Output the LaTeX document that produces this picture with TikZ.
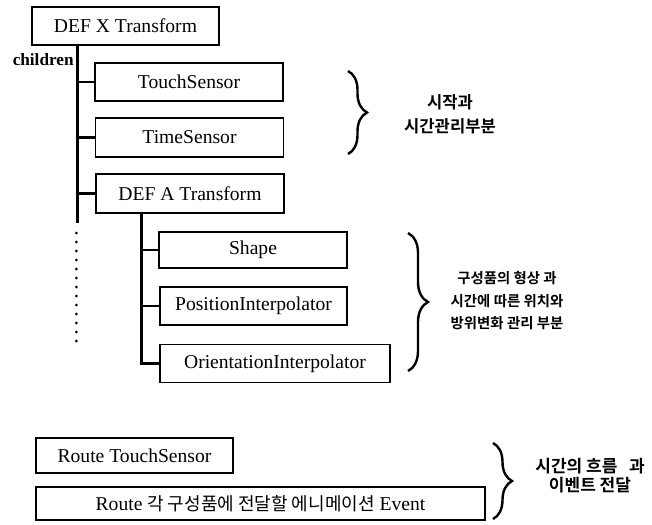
\documentclass[tikz,border=0pt]{standalone}
\usepackage{fontspec}
\setmainfont{Liberation Serif}
\newfontfamily\kofont{Noto Sans CJK KR}[BoldFont={Noto Sans CJK KR Bold}]
\usepackage{tikz}
\usetikzlibrary{calc}
\usetikzlibrary{decorations.pathreplacing}

\begin{document}
\begin{tikzpicture}[x=0.5pt, y=-0.5pt,
		every node/.style={font=\fontsize{9.8}{11}\selectfont},
		box/.style={draw, line width=0.65pt, inner sep=0pt, minimum width=94pt, minimum height=19pt},
		tree/.style={line width=1.3pt},
		curly/.style={decorate, decoration={brace, amplitude=#1}, line width=1.2pt},
		note/.style 2 args={align=center, font=\kofont\bfseries\fontsize{#1}{#2}\selectfont}]
				\useasboundingbox (0,0) rectangle (652,524);
				
				\node[box, minimum width=93.5pt] (xroot) at (125.5,26) {DEF X Transform};
				\node[font=\bfseries\fontsize{8.6}{10}\selectfont, anchor=east, inner sep=0pt] (childlbl) at (74,60) {children};
				
				\node[box] (touch) at (189,82) {TouchSensor};
				\node[box, minimum height=19.5pt] (timesens) at (189.5,137.5) {TimeSensor};
				\node[box, minimum height=19.5pt] (aroot) at (190,193.5) {DEF A Transform};
				
				\node[box, minimum height=18pt] (shape) at (253,250) {Shape};
				\node[box, minimum width=93.5pt] (posint) at (253.5,306) {PositionInterpolator};
				\node[box, minimum width=115pt] (oriint) at (275,363.5) {OrientationInterpolator};
				
				\node[box, minimum width=98.5pt, minimum height=17.5pt] (routets) at (134.5,455.5) {Route TouchSensor};
				\node[box, minimum width=224.5pt, minimum height=16.5pt] (routeev) at (260.5,503.5)
				{Route {\kofont\fontsize{9}{11}\selectfont 각 구성품에 전달할 에니메이션} Event};
				
				\node[note={8.3}{12}] (startnote) at (450,114) {시작과\\시간관리부분};
				\node[note={7.2}{11.25}] (shapenote) at (507,301) {구성품의 형상 과\\시간에 따른 위치와\\방위변화 관리 부분};
				\node[note={8.5}{9.5}] (routenote) at (590,476) {시간의 흐름~~~과\\이벤트 전달};
				
				\coordinate (xend) at ([xshift=23pt]xroot.south west |- 0,223);
				\coordinate (atrunk) at ([xshift=23pt]aroot.south west);
				
				\draw[tree] ([xshift=23pt]xroot.south west) -- (xend);
				\foreach \n in {touch,timesens,aroot}
				\draw[tree] (\n.west -| xend) -- (\n.west);
				\foreach \k in {0,...,12}
				\fill ($(xend)+(-1,10+9*\k)$) circle (0.75pt);
				
				\draw[tree] (atrunk) |- (oriint.west);
				\draw[tree] (shape.west -| atrunk) -- (shape.west);
				\draw[tree] (posint.west -| atrunk) -- (posint.west);
				
				\draw[curly=9.5pt] (348,71) -- (348,154);
				\draw[curly=10pt] (408,233) -- (408,371);
				\draw[curly=9.5pt] (493,443) -- (493,519);
			\end{tikzpicture}
\end{document}
